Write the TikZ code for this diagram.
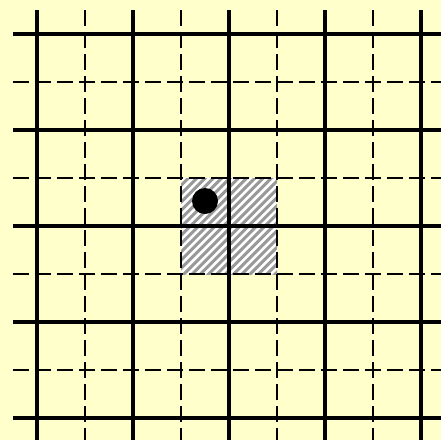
\documentclass[tikz,border=0pt]{standalone}
\begin{document}
\begin{tikzpicture}[x=1pt,y=-1pt,
  thickline/.style={line width=4pt,black},
  dashline/.style={line width=2pt,black,dash pattern=on 16pt off 6pt},
  hatchline/.style={line width=3pt,gray!80},
  ]
\definecolor{bgyellow}{RGB}{255,255,204}
\fill[bgyellow] (0,0) rectangle (441,440);
\useasboundingbox (0,0) rectangle (441,440);
% hatched square
\fill[white] (181,178) rectangle (277,274);
\begin{scope}
\clip (181,178) rectangle (277,274);
\foreach \i in {0,...,26}{
  \draw[hatchline] ({60+8.3*\i},290) -- ({60+8.3*\i+130},160);
}
\end{scope}
% dashed grid lines
\foreach \k in {1,3,5,7}{
  \draw[dashline] ({36.5+48*\k},10) -- ({36.5+48*\k},440);
  \draw[dashline] (12.7,{33.7+48*\k}) -- (441,{33.7+48*\k});
}
% thick grid lines
\foreach \k in {0,2,4,6,8}{
  \draw[thickline] ({36.5+48*\k},10) -- ({36.5+48*\k},440);
  \draw[thickline] (12.7,{33.7+48*\k}) -- (441,{33.7+48*\k});
}
\fill[black] (205,201) circle (13);
\end{tikzpicture}
\end{document}
